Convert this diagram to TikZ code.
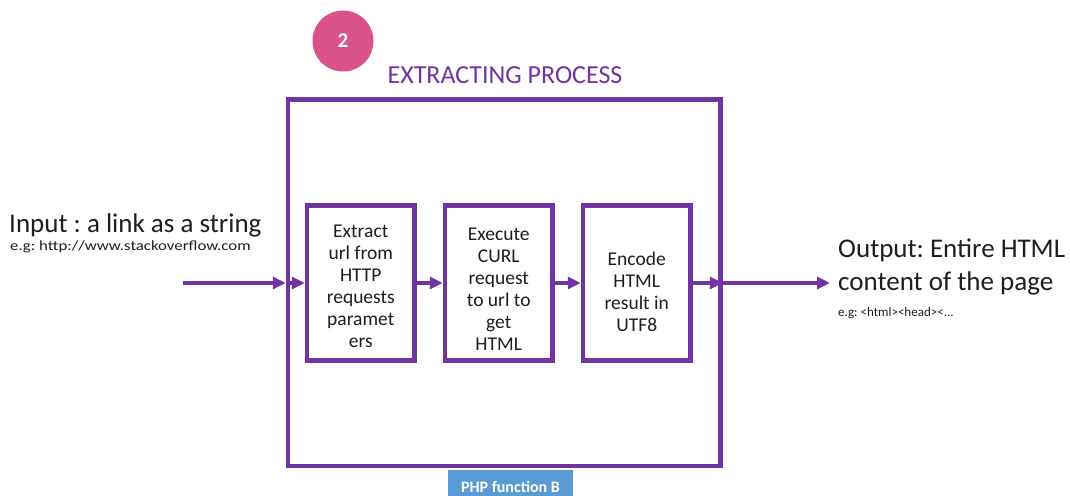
\documentclass[tikz,border=0pt]{standalone}
\usepackage{fontspec}
\setmainfont{Carlito}
\frenchspacing
\usetikzlibrary{arrows.meta}
\definecolor{ppl}{HTML}{7035A2}
\definecolor{pinkc}{HTML}{D9528B}
\definecolor{bluec}{HTML}{5B9BD5}
\definecolor{txt}{HTML}{1E1E1E}
\tikzset{
  frame/.style={draw=ppl, line width=4.5pt, inner sep=0pt},
  stepbox/.style={frame, minimum width=107.5pt, minimum height=155pt, align=center,
    text=txt, font=\fontsize{19.5}{22}\selectfont},
  steptext/.style={align=center, text=txt, font=\fontsize{19.5}{22}\selectfont, inner sep=0pt},
  arr/.style={draw=ppl, line width=4.5pt, -{Triangle[length=13pt,width=12pt]}},
}
\begin{document}
\begin{tikzpicture}[x=1pt,y=-1pt]
\useasboundingbox (0,0) rectangle (1070,495);
% outer box
\node[frame, minimum width=432.5pt, minimum height=366.5pt] (outer) at (504.25,282.75) {};
% number badge and title
\node[circle, fill=pinkc, minimum size=61pt, inner sep=0pt, text=white,
      font=\fontsize{21}{21}\selectfont\bfseries] (badge) at (343,41) {2};
\node[anchor=base, text=ppl, font=\fontsize{26}{26}\selectfont] (title) at (505,83) {EXTRACTING PROCESS};
% step boxes
\node[stepbox] (b1) at (360.75,283) {};
\node[stepbox] (b2) at (498.75,283) {};
\node[stepbox] (b3) at (636.75,283) {};
\node[steptext] (t1) at (360.75,286) {Extract\\url from\\HTTP\\requests\\paramet\\ers};
\node[steptext] (t2) at (498.75,289) {Execute\\CURL\\request\\to url to\\get\\HTML};
\node[steptext] (t3) at (636.75,292) {Encode\\HTML\\result in\\UTF8};
% input / output
\coordinate (inStart) at (183,283);
\coordinate (outEnd) at (830,283);
\draw[arr] (inStart) -- (outer.west |- inStart);
\draw[arr] (outer.west |- b1.west) -- (b1.west);
\draw[arr] (b1.east) -- (b2.west);
\draw[arr] (b2.east) -- (b3.west);
\draw[arr] (b3.east) -- (outer.east |- b3.east);
\draw[arr] (outer.east |- b3.east) -- (outEnd);
\node[anchor=base west, text=txt, font=\fontsize{27}{27}\selectfont, inner sep=0pt] (inLbl) at (9,232) {Input : a link as a string};
\node[anchor=base west, text=txt, font=\fontsize{14}{14}\selectfont, inner sep=0pt] (inEg) at (10,250.5) {\scalebox{1.2}[1]{e.g: http://www.stackoverflow.com}};
\node[anchor=base west, text=txt, font=\fontsize{27}{27}\selectfont, inner sep=0pt] (outLbl1) at (838,257.5) {Output: Entire HTML};
\node[anchor=base west, text=txt, font=\fontsize{27}{27}\selectfont, inner sep=0pt] (outLbl2) at (838,290) {content of the page};
\node[anchor=base west, text=txt, font=\fontsize{13}{13}\selectfont, inner sep=0pt] (outEg) at (838,316) {e.g: <html><head><...};
% footer tag
\fill[bluec] (448,470) rectangle (573,500);
\node[anchor=base, text=white, font=\fontsize{16}{16}\selectfont\bfseries, inner sep=0pt] (php) at (510.5,492) {PHP function B};
\end{tikzpicture}
\end{document}
